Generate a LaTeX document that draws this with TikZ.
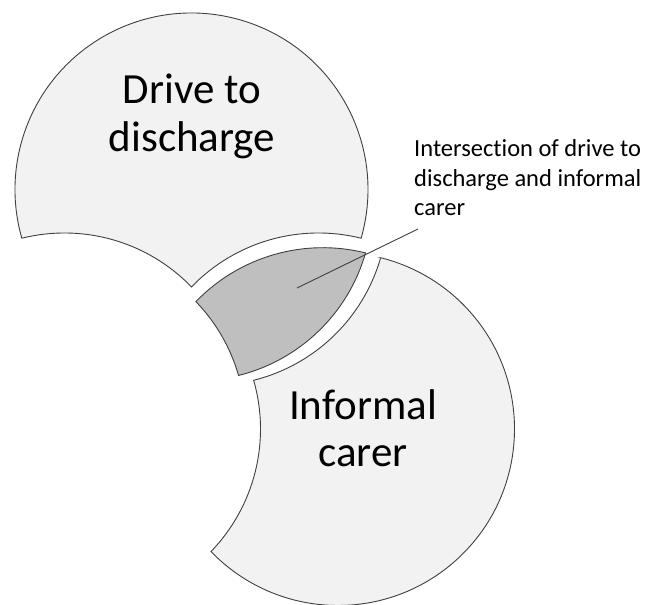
\documentclass[tikz,border=0pt]{standalone}
\usepackage{fontspec}
\setmainfont{Carlito}[Ligatures={NoCommon}]
\definecolor{lightfill}{HTML}{F2F2F2}
\definecolor{lensfill}{HTML}{BFBFBF}
\definecolor{edgecol}{HTML}{404040}
\tikzset{
  piece/.style={draw=edgecol, line width=0.9pt, line join=miter},
  outerpiece/.style={piece, fill=lightfill},
  lenspiece/.style={piece, fill=lensfill},
  bigtext/.style={inner sep=0pt, align=center, font=\fontsize{43}{47.7}\selectfont},
  smalltext/.style={inner sep=0pt, align=left, font=\fontsize{24.5}{29.4}\selectfont},
  leader/.style={draw=edgecol, line width=0.9pt}
}
\begin{document}
\begin{tikzpicture}[x=1pt,y=1pt,yscale=-1]
\useasboundingbox (0,0) rectangle (646,605);
% top piece: A minus B minus C
\draw[outerpiece] (21.84,238.21)
  arc[start angle=-103.98, end angle=-43.98, radius=176.5]
  arc[start angle=-136.02, end angle=-76.02, radius=176.5]
  arc[start angle=16.02, end angle=-196.02, radius=176.5] -- cycle;
% lens: A and B minus C
\draw[lenspiece] (365.56,252.91)
  arc[start angle=-76.02, end angle=-136.02, radius=176.5]
  arc[start angle=-43.98, end angle=-16.02, radius=176.5]
  arc[start angle=76.02, end angle=16.02, radius=176.5] -- cycle;
% bottom piece: B minus A minus C
\draw[outerpiece] (380.66,257.71)
  arc[start angle=16.02, end angle=76.02, radius=176.5]
  arc[start angle=-16.02, end angle=43.98, radius=176.5]
  arc[start angle=136.02, end angle=-76.02, radius=176.5] -- cycle;
% texts (anchor base = baseline of the last line)
\node[bigtext, anchor=base] (drive) at (192,151) {Drive to\\discharge};
\node[bigtext, anchor=base] (carer) at (363,466.7) {Informal\\carer};
\node[smalltext, anchor=base west] (label) at (414,215.7) {Intersection of drive to\\discharge and informal\\carer};
% leader line
\coordinate (leadA) at (418,229);
\coordinate (leadB) at (297,288);
\draw[leader] (leadA) -- (leadB);
\end{tikzpicture}
\end{document}
